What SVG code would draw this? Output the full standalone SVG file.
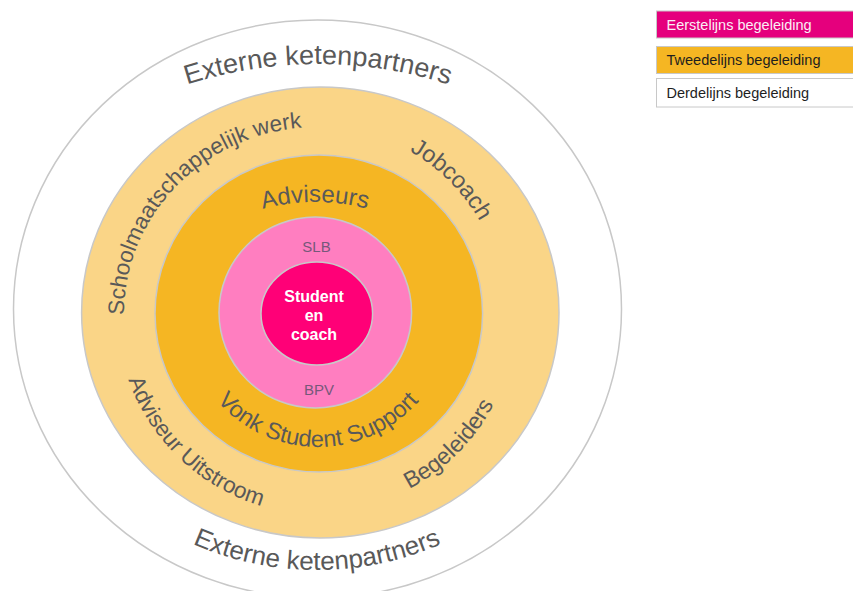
<svg xmlns="http://www.w3.org/2000/svg" width="853" height="591" viewBox="0 0 853 591">
<style>
.ring{stroke:#c8c8c8;stroke-width:1.5}
.lbl{font-family:"Liberation Sans",Arial,sans-serif;fill:#595959}
.small{font-family:"Liberation Sans",Arial,sans-serif;fill:#76587a;font-size:15px;text-anchor:middle}
.core{font-family:"Liberation Sans",Arial,sans-serif;fill:#ffffff;font-size:16px;font-weight:bold;text-anchor:middle}
.leg{font-family:"Liberation Sans",Arial,sans-serif;font-size:14.5px}
.box{stroke:#c8c8c8;stroke-width:1}
</style>
<defs>
<path id="pTop" d="M105.5,121 A425,425 0 0 1 530.5,121"/>
<path id="pBot" d="M139.2,514 A310,310 0 0 0 494.8,514"/>
<path id="pSchool" d="M124,315 A194,187 0 0 1 512,313"/>
<path id="pJob" d="M318,127 A186,186 0 0 1 504,313"/>
<path id="pAdv" d="M230.5,220.7 A200,200 0 0 1 399.5,220.7"/>
<path id="pVonk" d="M184,313 A134,134 0 0 0 452,313"/>
<path id="pUit" d="M117,313 A201,201 0 0 0 318,514"/>
<path id="pBeg" d="M318,511 A198,198 0 0 0 516,313"/>
</defs>
<rect width="853" height="591" fill="#ffffff"/>
<g id="ring-extern">
<ellipse class="ring" cx="317.5" cy="309" rx="304" ry="289" fill="#ffffff"/>
<text class="lbl" font-size="27"><textPath href="#pTop" startOffset="50%" text-anchor="middle">Externe ketenpartners</textPath></text>
<text class="lbl" font-size="26"><textPath href="#pBot" startOffset="50%" text-anchor="middle">Externe ketenpartners</textPath></text>
</g>
<g id="ring-derde">
<ellipse class="ring" cx="320.3" cy="312.5" rx="238.7" ry="225.5" fill="#fad587"/>
<text class="lbl" font-size="22.5"><textPath href="#pSchool">Schoolmaatschappelijk werk</textPath></text>
<text class="lbl" font-size="23.5"><textPath href="#pJob" startOffset="50%" text-anchor="middle">Jobcoach</textPath></text>
<text class="lbl" font-size="22.5"><textPath href="#pUit" startOffset="68">Adviseur Uitstroom</textPath></text>
<text class="lbl" font-size="23"><textPath href="#pBeg" startOffset="50%" text-anchor="middle">Begeleiders</textPath></text>
</g>
<g id="ring-tweede">
<ellipse class="ring" cx="318.8" cy="313.5" rx="163.8" ry="158.5" fill="#f5b623"/>
<text class="lbl" font-size="24"><textPath href="#pAdv" startOffset="50%" text-anchor="middle">Adviseurs</textPath></text>
<text class="lbl" font-size="23.5"><textPath href="#pVonk" startOffset="50%" text-anchor="middle">Vonk Student Support</textPath></text>
</g>
<g id="ring-eerste">
<ellipse class="ring" cx="315.3" cy="312.5" rx="96.3" ry="95.5" fill="#ff7ec0"/>
<text class="small" x="316.5" y="251.5">SLB</text>
<text class="small" x="319" y="395">BPV</text>
</g>
<g id="core">
<ellipse class="ring" cx="316.8" cy="313.5" rx="55.8" ry="51.5" fill="#ff0077"/>
<text class="core" x="314" y="301.5">Student</text>
<text class="core" x="314" y="320.5">en</text>
<text class="core" x="314" y="340">coach</text>
</g>
<g id="connectors"/>
<g id="legend-eerste">
<rect class="box" x="656.5" y="11" width="200" height="27" fill="#e5007d"/>
<text class="leg" x="666.5" y="29.5" fill="#fbeef5">Eerstelijns begeleiding</text>
</g>
<g id="legend-tweede">
<rect class="box" x="656.5" y="46.5" width="200" height="27" fill="#f5b623"/>
<text class="leg" x="666.5" y="65" fill="#1e1e1e">Tweedelijns begeleiding</text>
</g>
<g id="legend-derde">
<rect class="box" x="656.5" y="78.5" width="200" height="28.5" fill="#ffffff"/>
<text class="leg" x="666.5" y="97.5" fill="#1e1e1e">Derdelijns begeleiding</text>
</g>
</svg>
